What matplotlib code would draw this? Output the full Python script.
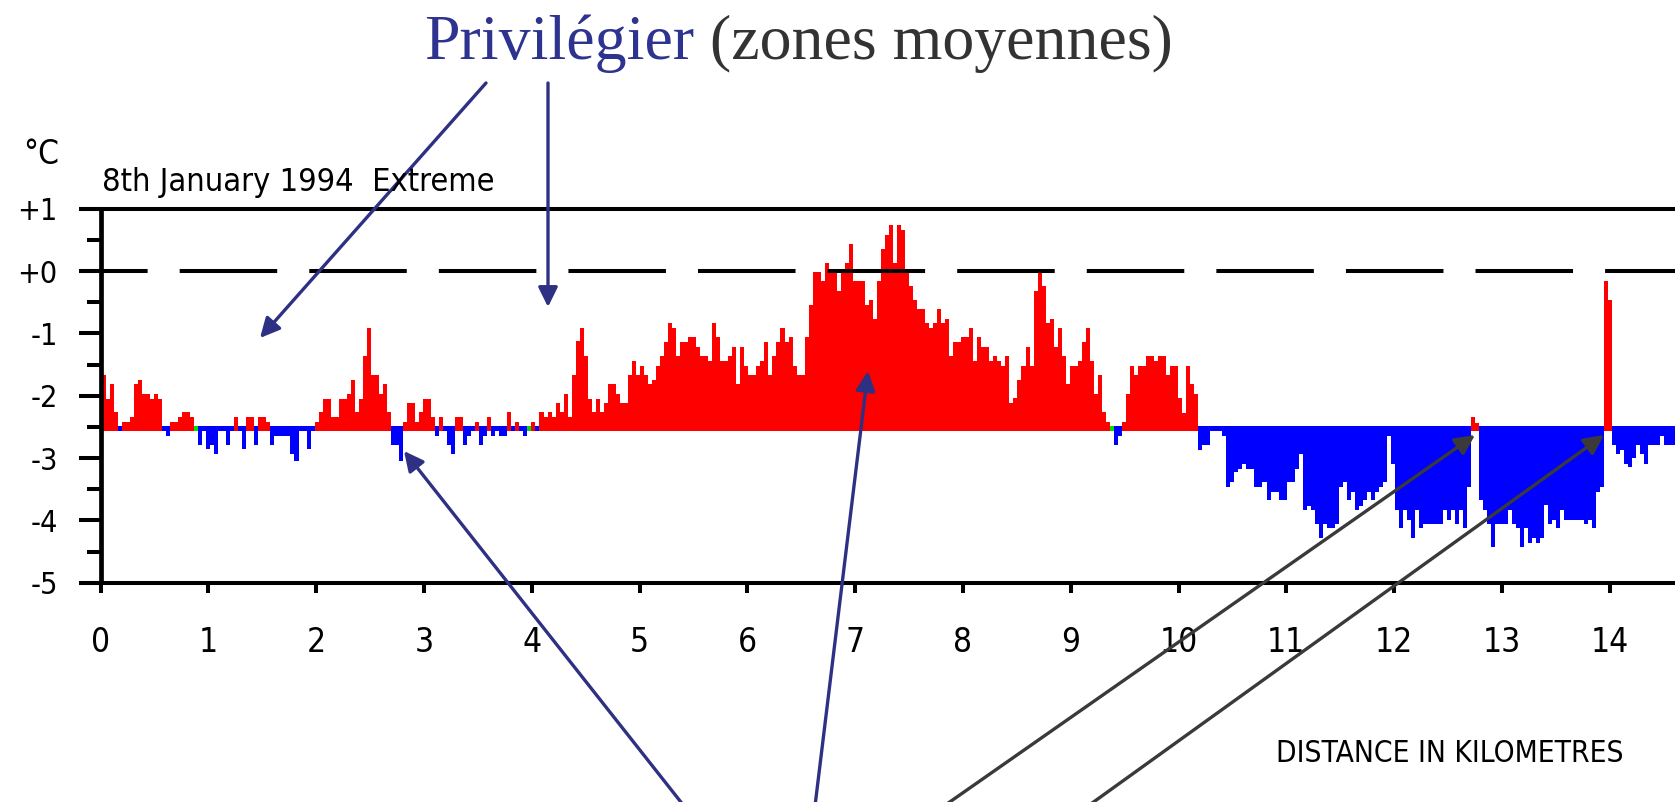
import numpy as np
import matplotlib
matplotlib.use("Agg")
import matplotlib.pyplot as plt
from matplotlib import font_manager as fm

plt.rcParams['lines.scale_dashes'] = False

# ---------------- data (road temperature profile, degC) ----------------
TEMP_A = [  # 0 - 2.5 km
    -1.67, -2.05, -1.82, -2.26, -2.56, -2.42, -2.42, -2.34, -1.82, -1.75,
    -1.97, -1.97, -2.05, -1.97, -2.05, -2.56, -2.64, -2.42, -2.42, -2.34,
    -2.26, -2.26, -2.34, -2.52, -2.79, -2.56, -2.86, -2.79, -2.94, -2.56,
    -2.56, -2.79, -2.56, -2.34, -2.56, -2.86, -2.34, -2.34, -2.79, -2.34,
    -2.34, -2.42, -2.79, -2.64, -2.64, -2.64, -2.64, -2.94, -3.05, -2.56,
    -2.56, -2.86, -2.56, -2.42, -2.26, -2.05, -2.05, -2.34, -2.34, -2.05,
    -2.05, -1.97, -1.75, -2.26, -2.05, -1.36, -0.92]
TEMP_B = [  # 2.5 - 4.95 km
    -1.67, -1.67, -1.97, -1.81, -2.26, -2.79, -2.79, -3.05, -2.42, -2.12,
    -2.12, -2.42, -2.26, -2.05, -2.05, -2.34, -2.64, -2.34, -2.56, -2.79,
    -2.94, -2.34, -2.34, -2.79, -2.64, -2.56, -2.42, -2.79, -2.64, -2.34,
    -2.64, -2.56, -2.64, -2.64, -2.26, -2.56, -2.42, -2.56, -2.64, -2.52,
    -2.42, -2.56, -2.26, -2.34, -2.26, -2.34, -2.12, -2.26, -1.97, -2.34,
    -1.67, -1.13, -0.92, -1.36, -2.05, -2.26, -2.05, -2.26, -2.12, -1.81,
    -1.81, -1.97, -2.12, -2.12, -1.67, -1.45]
TEMP_C = [  # 4.95 - 7.4 km
    -1.67, -1.52, -1.67, -1.81, -1.75, -1.52, -1.36, -1.14, -0.83, -0.92,
    -1.36, -1.14, -1.14, -1.06, -1.06, -1.22, -1.36, -1.36, -1.44, -0.83,
    -1.06, -1.44, -1.44, -1.36, -1.22, -1.81, -1.22, -1.52, -1.67, -1.67,
    -1.52, -1.44, -1.14, -1.67, -1.36, -1.14, -0.92, -1.14, -1.06, -1.52,
    -1.67, -1.67, -1.06, -0.55, -0.02, -0.02, -0.16, 0.13, -0.02, -0.02,
    -0.32, -0.02, 0.13, 0.43, -0.16, -0.16, -0.16, -0.55, -0.47, -0.77,
    -0.16, 0.35, 0.58, 0.74, 0.13, 0.74]
TEMP_D = [  # 7.4 - 9.9 km
    0.66, -0.02, -0.24, -0.47, -0.61, -0.61, -0.83, -0.92, -0.83, -0.61,
    -0.83, -0.77, -1.36, -1.14, -1.14, -1.06, -1.06, -0.92, -1.44, -1.06,
    -1.22, -1.22, -1.44, -1.36, -1.44, -1.52, -1.36, -2.11, -2.04, -1.75,
    -1.52, -1.22, -1.52, -0.32, -0.02, -0.24, -0.83, -0.77, -1.22, -0.92,
    -1.36, -1.81, -1.52, -1.52, -1.44, -1.14, -0.92, -1.44, -1.97, -1.67,
    -2.26, -2.42, -2.52, -2.79, -2.64, -2.42, -1.97, -1.52, -1.67, -1.52,
    -1.52, -1.36, -1.36, -1.44, -1.36, -1.36]
TEMP_E = [  # 9.9 - 13.9 km
    -1.67, -1.52, -1.52, -2.03, -2.27, -1.52, -1.81, -1.97, -2.87, -2.79,
    -2.79, -2.57, -2.57, -2.57, -2.64, -3.46, -3.38, -3.23, -3.17, -3.10,
    -3.17, -3.17, -3.46, -3.46, -3.38, -3.68, -3.54, -3.54, -3.68, -3.68,
    -3.38, -3.38, -3.17, -2.93, -3.83, -3.77, -3.83, -4.06, -4.29, -4.06,
    -4.13, -4.13, -4.06, -3.46, -3.39, -3.68, -3.54, -3.83, -3.77, -3.68,
    -3.54, -3.68, -3.54, -3.46, -3.38, -2.64, -3.09, -3.83, -4.13, -3.83,
    -3.99, -4.29, -3.83, -4.13, -4.06, -4.06, -4.06, -4.06, -4.06, -3.83,
    -3.99, -3.83, -4.06, -3.83, -4.13, -3.46, -2.34, -2.43, -3.67, -3.83,
    -4.06, -4.43, -4.06, -4.06, -4.06, -3.83, -4.06, -4.13, -4.43, -4.13,
    -4.36, -4.29, -4.36, -4.29, -3.76, -4.06, -3.99, -4.13, -3.83, -3.99,
    -3.99, -3.99, -3.99, -3.99, -4.06, -3.99, -4.13, -3.54, -3.46]
TEMP_F = [  # 13.9 - 14.6 km
    -0.16, -0.47, -2.79, -2.93, -2.87, -3.09, -3.15, -3.00, -2.79, -2.93,
    -3.09, -2.79, -2.79, -2.79, -2.65, -2.79, -2.79, -2.79]

SAMPLE_STEP_KM = 0.03726
FIRST_SAMPLE_KM = 0.011
BASELINE = -2.52          # reference level of the bars

X_TICKS = list(range(15))
X_LABELS = [str(t) for t in X_TICKS]
Y_TICKS = [1, 0, -1, -2, -3, -4, -5]
Y_LABELS = ['+1', '+0', '-1', '-2', '-3', '-4', '-5']
Y_MINOR = [0.5, -0.5, -1.5, -2.5, -3.5, -4.5]

TITLE = "8th January 1994  Extreme"
UNIT = "°C"
XLABEL = "DISTANCE IN KILOMETRES"

# ---------------- figure ----------------
W, H = 1675, 802
fig = plt.figure(figsize=(W / 100, H / 100), dpi=100)
fig.patch.set_facecolor('white')

def fx(x):
    return x / W

def fy(y):
    return 1 - y / H

available = {f.name for f in fm.fontManager.ttflist}
PIX = ['Liberation Sans Narrow', 'DejaVu Sans'] if 'Liberation Sans Narrow' in available else ['DejaVu Sans']
SERIF = ['Liberation Serif', 'DejaVu Serif']

x0_px, px_per_km = 100.5, 107.8
y_top_px, y_bot_px = 208.7, 582.7
xmax = (W - x0_px) / px_per_km
ax = fig.add_axes([fx(x0_px), fy(y_bot_px), (W - x0_px) / W, (y_bot_px - y_top_px) / H])
ax.set_xlim(0, xmax)
ax.set_ylim(-5, 1)
ax.patch.set_visible(False)
for s in ax.spines.values():
    s.set_visible(False)

temps = np.array(TEMP_A + TEMP_B + TEMP_C + TEMP_D + TEMP_E + TEMP_F)
dist = FIRST_SAMPLE_KM + SAMPLE_STEP_KM * np.arange(len(temps))

red_bot = BASELINE - 0.04
blue_top = BASELINE + 0.03
is_red = temps > BASELINE + 0.01
is_blue = temps < BASELINE - 0.01
is_green = ~is_red & ~is_blue

ax.bar(dist[is_red], temps[is_red] - red_bot, bottom=red_bot, width=SAMPLE_STEP_KM,
       align='edge', color='#FF0000', linewidth=0, antialiased=False, zorder=2)
blue_low = np.minimum(temps[is_blue], BASELINE - 0.04)
ax.bar(dist[is_blue], blue_top - blue_low, bottom=blue_low, width=SAMPLE_STEP_KM,
       align='edge', color='#0000FF', linewidth=0, antialiased=False, zorder=2)
ax.bar(dist[is_green], blue_top - red_bot, bottom=red_bot, width=SAMPLE_STEP_KM,
       align='edge', color='#00E000', linewidth=0, antialiased=False, zorder=2)

# frame lines
lw = 2.9
xl = -22 / px_per_km
ax.plot([xl, xmax], [1, 1], color='black', lw=lw, clip_on=False, solid_capstyle='butt', zorder=4)
ax.plot([xl, xmax], [-5, -5], color='black', lw=lw, clip_on=False, solid_capstyle='butt', zorder=4)
ax.plot([xl, xmax], [0, 0], color='black', lw=lw, clip_on=False,
        linestyle=(20.8, (70.2, 23.1)), dash_capstyle='butt', zorder=4)
ax.plot([0, 0], [1, -5], color='black', lw=3.4, clip_on=False, solid_capstyle='butt', zorder=4)

# ticks
ax.set_xticks(X_TICKS)
ax.set_xticklabels(X_LABELS)
ax.tick_params(axis='x', which='major', direction='out', length=7.5, width=lw, pad=24,
               labelsize=22, colors='black')
ax.set_yticks(Y_TICKS)
ax.set_yticklabels(Y_LABELS)
ax.set_yticks(Y_MINOR, minor=True)
ax.tick_params(axis='y', which='major', direction='out', length=15.8, width=lw, pad=15,
               labelsize=22)
ax.tick_params(axis='y', which='minor', direction='out', length=10, width=lw)
for lab in ax.get_xticklabels() + ax.get_yticklabels():
    lab.set_family(PIX)
    lab.set_stretch('condensed')

# texts
t_unit = fig.text(fx(41), fy(155), UNIT, family=PIX, size=24, ha='center', va='center',
                  stretch='condensed')
t_title = fig.text(fx(102), fy(183), TITLE, family=PIX, size=26, ha='left', va='center',
                   stretch='condensed')
t_xlab = fig.text(fx(1276), fy(753), XLABEL, family=PIX, size=22, ha='left', va='center',
                  stretch='condensed')

fig.text(fx(424), fy(59), 'Privilégier', family=SERIF, size=46, color='#2F3390',
         ha='left', va='baseline')
fig.text(fx(710), fy(59), '(zones moyennes)', family=SERIF, size=46, color='#333333',
         ha='left', va='baseline')

# fit the pixel-font texts to the widths they take in the original
fig.canvas.draw()
rend = fig.canvas.get_renderer()

def fit(t, target_w):
    w = t.get_window_extent(rend).width
    t.set_fontsize(t.get_fontsize() * target_w / w)

fit(t_unit, 36)
fit(t_title, 393)
fit(t_xlab, 348)
xt14 = ax.get_xticklabels()[-1]
k_x = 38 / xt14.get_window_extent(rend).width
ax.tick_params(axis='x', labelsize=22 * k_x)
yt = ax.get_yticklabels()[0]
k_y = 40 / yt.get_window_extent(rend).width
ax.tick_params(axis='y', which='major', labelsize=22 * k_y)

# arrows (tail -> tip, pixel coordinates from the top-left)
NAVY = '#2E3183'
GREY = '#3A3A3A'
arrows = [((486, 83), (260, 338), NAVY),
          ((548, 83), (548, 307), NAVY),
          ((684, 806), (404, 451), NAVY),
          ((815, 806), (868, 371), NAVY),
          ((944, 806), (1475, 435), GREY),
          ((1088, 806), (1604, 435), GREY)]
for (tx, ty), (hx, hy), col in arrows:
    ax.annotate('', xy=(hx, H - hy), xytext=(tx, H - ty),
                xycoords='figure pixels', textcoords='figure pixels',
                annotation_clip=False,
                arrowprops=dict(arrowstyle='-|>,head_length=0.85,head_width=0.42',
                                mutation_scale=14, lw=2.4, color=col,
                                shrinkA=0, shrinkB=0), zorder=6)

fig.savefig('out.png', dpi=100, facecolor='white')
